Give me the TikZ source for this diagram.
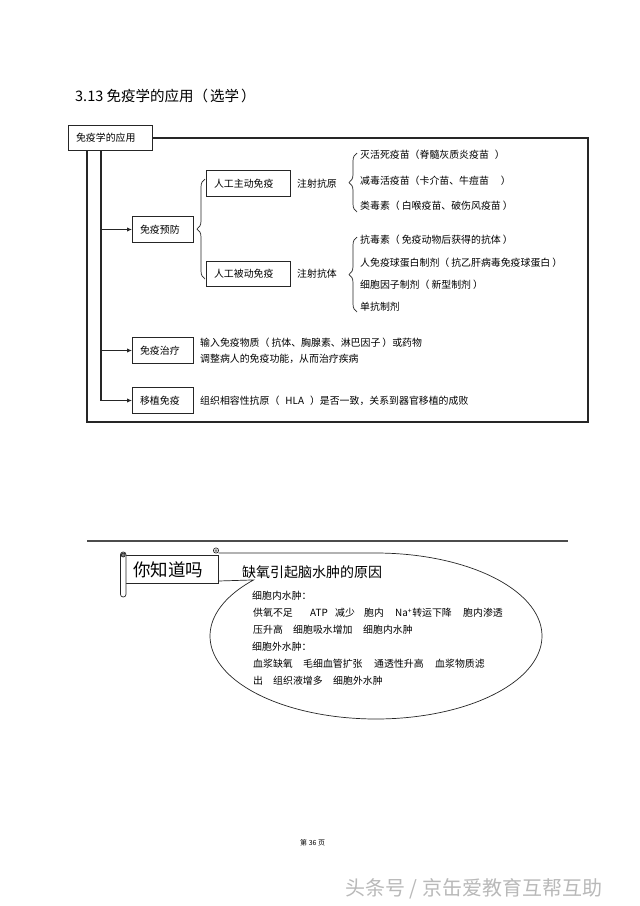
\documentclass[tikz,border=0pt]{standalone}
\usepackage{fontspec}
\setmainfont{Noto Sans CJK SC}
\usetikzlibrary{arrows.meta,decorations.pathreplacing}
\newcommand\myfs{\fontsize{9.9}{12}\selectfont}
\begin{document}
\begin{tikzpicture}[x=1pt,y=-1pt,
  frame/.style={line width=1.1pt, draw=black!85},
  tbox/.style={draw=black!85, line width=1.1pt, anchor=west, inner xsep=7.5pt, inner ysep=0pt, minimum height=25.5pt, align=left, text width=#1, font=\myfs},
  txt/.style={anchor=west, inner sep=0pt, font=\myfs},
  arr/.style={line width=1pt, draw=black!85, -{Latex[length=5pt,width=4.5pt]}},
  bracestyle/.style={decorate, decoration={brace, amplitude=#1}, line width=0.7pt, draw=black!85},
  sc/.style={line width=0.7pt, draw=black!85},
]
\useasboundingbox (0,0) rectangle (640,906);
\fill[white] (0,0) rectangle (640,906);

% title
\node[anchor=west, inner sep=0pt, font=\fontsize{14.5}{17}\selectfont] (title) at (75,96) {3.13 免疫学的应用（\hspace{2pt}选学\hspace{2pt}）};

% boxes
\node[tbox=69pt] (root) at (68,138) {免疫学的应用};
\node[tbox=46pt] (prev) at (132,229.5) {免疫预防};
\node[tbox=46pt] (ther) at (132,350.5) {免疫治疗};
\node[tbox=46pt] (trans) at (132,400.5) {移植免疫};
\node[tbox=69pt] (act) at (206,183.5) {人工主动免疫};
\node[tbox=69pt] (pas) at (206,274) {人工被动免疫};

% frame
\draw[frame] ([xshift=19pt]root.south west) |- (588,422) |- (root.east);
\coordinate (vtop) at ([xshift=33pt]root.south west);
\draw[frame] (vtop) -- (vtop |- trans.west);
\draw[arr] (vtop |- prev.west) -- (prev.west);
\draw[arr] (vtop |- ther.west) -- (ther.west);
\draw[arr] (vtop |- trans.west) -- (trans.west);

% braces
\draw[bracestyle=8pt] (205,279) -- (205,179);
\draw[bracestyle=8pt] (357,212) -- (357,153);
\draw[bracestyle=8pt] (357,312) -- (357,237);

\node[txt] (inj1) at (297,183.5) {注射抗原};
\node[txt] (inj2) at (297,274) {注射抗体};

\node[txt] (a1) at (360,155) {灭活死疫苗（脊髓灰质炎疫苗\hspace{6pt}）};
\node[txt] (a2) at (360,180.5) {减毒活疫苗（卡介苗、牛痘苗\hspace{12pt}）};
\node[txt] (a3) at (360,205.5) {类毒素（\hspace{2pt}白喉疫苗、破伤风疫苗\hspace{2pt}）};

\node[txt] (p1) at (360,240) {抗毒素（\hspace{2pt}免疫动物后获得的抗体\hspace{2pt}）};
\node[txt] (p2) at (360,262.5) {人免疫球蛋白制剂（\hspace{2pt}抗乙肝病毒免疫球蛋白\hspace{2pt}）};
\node[txt] (p3) at (360,285) {细胞因子制剂（\hspace{2pt}新型制剂\hspace{2pt}）};
\node[txt] (p4) at (360,306.5) {单抗制剂};

\node[txt] (th1) at (200,342.5) {输入免疫物质（\hspace{2pt}抗体、胸腺素、淋巴因子\hspace{2pt}）或药物};
\node[txt] (th2) at (200,359) {调整病人的免疫功能，从而治疗疾病};
\node[txt] (tr1) at (200,400.5) {组织相容性抗原（\hspace{6pt}HLA\hspace{6pt}）是否一致，关系到器官移植的成败};

% lower section
\draw[line width=2.8pt, draw=black!70] (87,541) -- (568,541);

\draw[sc] (218.5,553) -- plot[domain=270:582.5, samples=160] ({376+166*cos(\x)},{636+83*sin(\x)}) -- (218.5,581);

\draw[sc, fill=white] (125,555) rectangle (218.5,583);
\draw[sc, fill=white, rounded corners=2.6pt] (120.5,552) rectangle (126,597);
\draw[sc, fill=gray] (123.2,555) circle (2pt);
\draw[sc, fill=white] (216,550.5) circle (2.6pt);
\fill[gray] (216,550.5) circle (1.5pt);
\node[anchor=center, inner sep=0pt, font=\fontsize{17.5}{20}\selectfont] (dyk) at (168,569.5) {你知道吗};

\node[anchor=west, inner sep=0pt, font=\fontsize{14}{17}\selectfont] (cap) at (242,572) {缺氧引起脑水肿的原因};

\node[txt] (e1) at (252,596) {细胞内水肿：};
\node[txt] (e2a) at (253,613) {供氧不足};
\node[txt] (e2b) at (310,613) {ATP};
\node[txt] (e2c) at (335,613) {减少};
\node[txt] (e2d) at (364,613) {胞内};
\node[txt] (e2e) at (395,613) {Na\textsuperscript{+}转运下降};
\node[txt] (e2f) at (463,613) {胞内渗透};
\node[txt] (e3a) at (253,630) {压升高};
\node[txt] (e3b) at (293,630) {细胞吸水增加};
\node[txt] (e3c) at (363,630) {细胞内水肿};
\node[txt] (e4) at (252,646.5) {细胞外水肿：};
\node[txt] (e5a) at (253,663.5) {血浆缺氧};
\node[txt] (e5b) at (303,663.5) {毛细血管扩张};
\node[txt] (e5c) at (374,663.5) {通透性升高};
\node[txt] (e5d) at (435,663.5) {血浆物质滤};
\node[txt] (e6a) at (253,680.5) {出};
\node[txt] (e6b) at (273,680.5) {组织液增多};
\node[txt] (e6c) at (333,680.5) {细胞外水肿};

% footer
\node[anchor=west, inner sep=0pt, font=\fontsize{7}{8}\selectfont] (page) at (300,843) {第 36 页};
\node[anchor=west, inner sep=0pt, font=\fontsize{20}{24}\selectfont, text=gray!55] (wm) at (345,889) {头条号 / 京缶爱教育互帮互助};
\end{tikzpicture}
\end{document}
